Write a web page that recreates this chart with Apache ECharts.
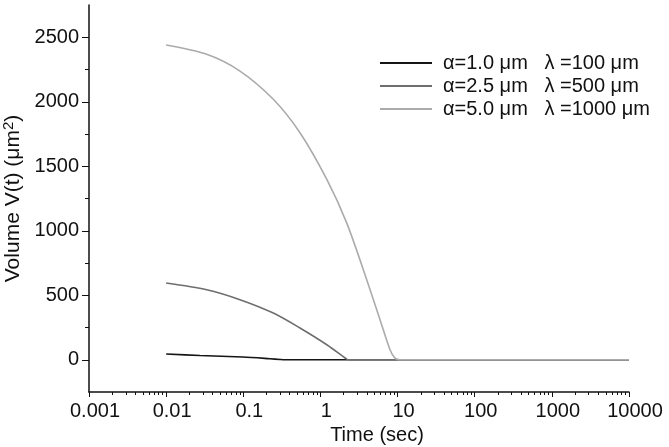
<!DOCTYPE html>
<html>
<head>
<meta charset="utf-8">
<script src="https://cdn.jsdelivr.net/npm/echarts@6/dist/echarts.min.js"></script>
<style>
  html, body { margin: 0; padding: 0; background: #fff; }
  #chart { width: 669px; height: 447px; }
</style>
</head>
<body>
<div id="chart"></div>
<script>
// series names (legend)
const seriesNames = [
  'α=1.0 μm   λ =100 μm',
  'α=2.5 μm   λ =500 μm',
  'α=5.0 μm   λ =1000 μm'
];

// time (sec) and volume (μm²)
const timeA = [0.01, 0.0274, 0.0985, 0.221, 0.3, 0.35, 10000];
const volA = [44, 33, 21, 8, 2, 0, 0];

const timeB = [0.01, 0.0336, 0.0906, 0.245, 0.543, 1.21, 2.19, 2.3, 10000];
const volB = [595, 543, 466, 362, 246, 116, 5, 0, 0];

const timeC = [0.01, 0.0336, 0.0906, 0.245, 0.543, 1.21, 2.19, 3.98, 5.92, 7.98, 9.27, 10.8, 10000];
const volC = [2440, 2368, 2238, 2019, 1760, 1398, 1061, 621, 311, 78, 13, 0, 0];

// ticks
const xLabels = [0.001, 0.01, 0.1, 1, 10, 100, 1000, 10000];
const xMinorTicks = [];
xLabels.slice(0, -1).forEach(d => {
  for (let k = 2; k <= 9; k++) xMinorTicks.push(+(d * k).toPrecision(6));
});
const yLabels = [0, 500, 1000, 1500, 2000, 2500];
const yMinorTicks = [250, 750, 1250, 1750, 2250];

const colors = ['#151515', '#6e6e6e', '#ababab'];
const font = 'Liberation Sans, Arial, Helvetica, sans-serif';

const pairs = (t, v) => t.map((x, i) => [x, v[i]]);
const seriesData = [pairs(timeA, volA), pairs(timeB, volB), pairs(timeC, volC)];

const chart = echarts.init(document.getElementById('chart'));

const fmtX = v => String(Number(Number(v).toPrecision(6)));

chart.setOption({
  animation: false,
  backgroundColor: '#fff',
  textStyle: { fontFamily: font },
  grid: { left: 89, right: 40, top: 5, bottom: 55, containLabel: false, outerBoundsMode: 'none' },
  legend: {
    orient: 'vertical',
    left: 375,
    top: 48,
    icon: 'rect',
    itemWidth: 52,
    itemHeight: 2,
    itemGap: 3,
    textStyle: { fontSize: 20, lineHeight: 20, color: '#111', fontFamily: font, padding: [0, 0, 0, 6] },
    data: seriesNames
  },
  xAxis: [{
    type: 'log',
    logBase: 10,
    min: 0.001,
    max: 10000,
    name: 'Time (sec)',
    nameLocation: 'middle',
    nameGap: 30,
    nameTextStyle: { fontSize: 20, color: '#111', padding: [0, 0, 0, 36] },
    axisLine: { onZero: false, lineStyle: { color: '#111', width: 1.5 } },
    axisTick: { length: 5, lineStyle: { color: '#111' }, customValues: xLabels },
    axisLabel: { fontSize: 20, color: '#111', margin: 9, padding: [0, 0, 0, 12], formatter: fmtX, customValues: xLabels },
    splitLine: { show: false }
  }, {
    type: 'log',
    logBase: 10,
    min: 0.001,
    max: 10000,
    position: 'bottom',
    axisLine: { show: false, onZero: false },
    axisTick: { length: 3, lineStyle: { color: '#111' }, customValues: xMinorTicks },
    axisLabel: { show: false },
    splitLine: { show: false }
  }],
  yAxis: [{
    type: 'value',
    min: -250,
    max: 2750,
    name: 'Volume V(t) (μm{sup|2})',
    nameLocation: 'middle',
    nameGap: 61,
    nameTextStyle: {
      fontSize: 21, color: '#111',
      rich: { sup: { fontSize: 15, color: '#111', verticalAlign: 'top', padding: [0, 0, 9, 0] } }
    },
    axisLine: { show: true, onZero: false, lineStyle: { color: '#111', width: 1.5 } },
    axisTick: { show: true, length: 7, lineStyle: { color: '#111' }, customValues: yLabels },
    axisLabel: { fontSize: 20, color: '#111', margin: 10, customValues: yLabels, formatter: v => String(v) },
    splitLine: { show: false }
  }, {
    type: 'value',
    min: -250,
    max: 2750,
    position: 'left',
    axisLine: { show: false, onZero: false },
    axisTick: { show: true, length: 4, lineStyle: { color: '#111' }, customValues: yMinorTicks },
    axisLabel: { show: false },
    splitLine: { show: false }
  }],
  series: seriesNames.map((name, i) => ({
    name: name,
    type: 'line',
    data: seriesData[i],
    symbol: 'none',
    smooth: 0.3,
    lineStyle: { color: colors[i], width: 1.6 },
    itemStyle: { color: colors[i] }
  }))
});
</script>
</body>
</html>
